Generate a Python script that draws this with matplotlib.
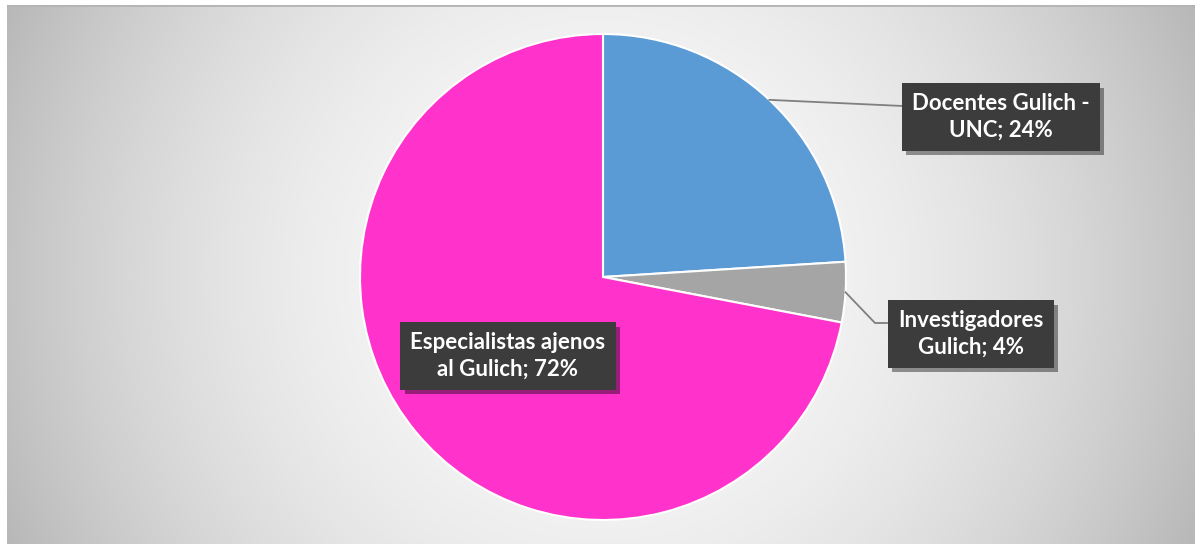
import numpy as np
import matplotlib.pyplot as plt
from matplotlib import patheffects as pe

plt.rcParams['font.family'] = ['Lato', 'DejaVu Sans']
plt.rcParams['hatch.color'] = '#555555'
plt.rcParams['hatch.linewidth'] = 0.6

labels = ['Docentes Gulich -\nUNC; 24%', 'Investigadores\nGulich; 4%', 'Especialistas ajenos\nal Gulich; 72%']
values = [24, 4, 72]
colors = ['#5B9BD5', '#A5A5A5', '#FF33CC']

W, H = 1195, 544
fig = plt.figure(figsize=(W / 100, H / 100), dpi=100)
fig.patch.set_facecolor('white')

# background with radial grey gradient
bg = fig.add_axes([7 / W, 0, 1 - 7 / W, 1 - 5 / H])
xx, yy = np.meshgrid(np.linspace(-1, 1, 400), np.linspace(-1, 1, 200))
d = np.sqrt(xx ** 2 + (yy * 0.45) ** 2)
shade = 250 - 55 * np.clip(d, 0, 1.1) ** 2
img = np.dstack([shade, shade, shade]) / 255.0
bg.imshow(img, aspect='auto', extent=[0, 1, 0, 1])
bg.set_xlim(0, 1)
bg.set_ylim(0, 1)
bg.axhline(1, color='#b4b4b4', lw=2)
bg.axis('off')

ax = fig.add_axes([0, 0, 1, 1])
ax.patch.set_alpha(0)

cx, cy, r = 603, 267, 243
wedges, _ = ax.pie(values, colors=colors, startangle=90, counterclock=False,
                   center=(cx, cy), radius=r, frame=True,
                   wedgeprops=dict(edgecolor='white', linewidth=1.5))
ax.set_xlim(0, W)
ax.set_ylim(0, H)
ax.set_aspect('equal')
ax.axis('off')

def edge_point(w):
    ang = np.deg2rad((w.theta1 + w.theta2) / 2)
    return cx + r * np.cos(ang), cy + r * np.sin(ang)

# leader lines
ex, ey = edge_point(wedges[0])
ax.plot([ex, 903], [ey, 438], color='#7f7f7f', lw=1.3)
ex, ey = edge_point(wedges[1])
ax.plot([ex, 875, 887], [ey, 221, 221], color='#7f7f7f', lw=1.3)

label_pos = [(1001, 427), (971, 210), (508, 188)]
shadow = [pe.SimplePatchShadow(offset=(3, -3), shadow_rgbFace='black', alpha=0.4), pe.Normal()]
for lab, (x, y) in zip(labels, label_pos):
    t = ax.text(x, y, lab, ha='center', va='center', color='white', fontsize=16,
                fontweight='bold', linespacing=1.3,
                bbox=dict(boxstyle='square,pad=0.45', facecolor='#3c3c3c',
                          edgecolor='none', hatch='....'))
    t.get_bbox_patch().set_path_effects(shadow)

fig.savefig('out.png', dpi=100)
